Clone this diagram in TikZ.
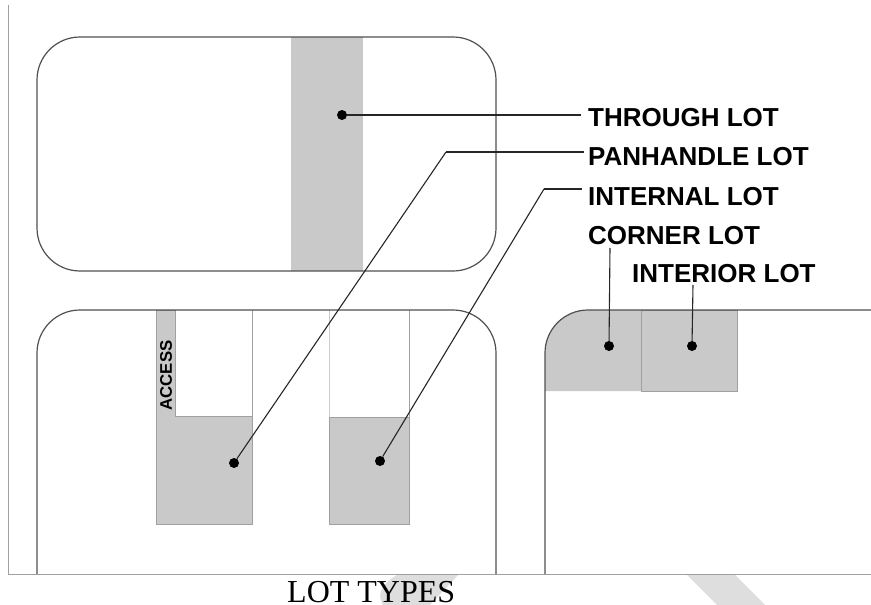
\documentclass[tikz,border=0pt]{standalone}
\usepackage{fontspec}
\setmainfont{Liberation Serif}
\newfontfamily\lblfont{Liberation Sans}
\definecolor{lotgray}{HTML}{C9C9C9}
\definecolor{edgegray}{HTML}{A0A0A0}
\definecolor{roadgray}{HTML}{505050}
\definecolor{markgray}{HTML}{DEDEDE}
\begin{document}
\begin{tikzpicture}
  [x=1pt,y=-1pt,
   lot/.style={fill=lotgray,draw=edgegray,line width=0.8pt},
   road/.style={draw=roadgray,line width=1.2pt,rounded corners=43pt},
   frameline/.style={draw=edgegray,line width=0.8pt},
   leader/.style={draw=black!85,line width=1.1pt},
   dot/.style={circle,fill=black,inner sep=0pt,minimum size=10pt},
   lbl/.style={anchor=base west,inner sep=0pt,font=\lblfont\bfseries\fontsize{26}{30}\selectfont}]
  \useasboundingbox (0,0) rectangle (871,605);

  % watermark below the frame
  \fill[markgray] (687,575) -- (735,575) -- (765,605) -- (717,605) -- cycle;
  \fill[markgray] (397,575) .. controls (385,582) and (375,592) .. (383,605) -- (430,605) -- (458,575) -- cycle;

  % frame
  \draw[frameline] (8,5) -- (8,574) -- (871,574);

  % lots
  \fill[lotgray] (291,37) rectangle (363,271);
  \draw[lot] (156,310) -- (175,310) -- (175,416.5) -- (252,416.5) -- (252,524) -- (156,524) -- cycle;
  \draw[frameline] (252,310) -- (252,416.5);
  \draw[lot] (329,417) rectangle (409,524.5);
  \draw[draw=black!20,line width=0.8pt] (329,310) -- (329,417);
  \draw[frameline] (409,310) -- (409,417);
  \fill[lotgray] (545,391) -- (545,353) .. controls (545,329) and (564,310) .. (588,310) -- (641,310) -- (641,391) -- cycle;
  \draw[lot] (641,310) rectangle (737,391);

  % blocks
  \draw[road] (37,37) rectangle (496,271);
  \draw[road] (37,574) -- (37,310) -- (496,310) -- (496,574);
  \draw[road] (545,574) -- (545,310) -- (871,310);

  \node[rotate=90,inner sep=0pt,font=\lblfont\bfseries\fontsize{16.8}{18}\selectfont] (access) at (166,375.5) {ACCESS};

  % labels
  \node[lbl] (through) at (588,126.5) {THROUGH LOT};
  \node[lbl] (panhandle) at (588,165) {PANHANDLE LOT};
  \node[lbl] (internal) at (588,205) {INTERNAL LOT};
  \node[lbl] (corner) at (588,244) {CORNER LOT};
  \node[lbl] (interior) at (632,282.5) {INTERIOR LOT};
  \node[anchor=base west,inner sep=0pt,font=\fontsize{32}{36}\selectfont] (title) at (287,602) {LOT TYPES};

  % dots
  \node[dot] (d1) at (342,115) {};
  \node[dot] (d2) at (234,463) {};
  \node[dot] (d3) at (380,461) {};
  \node[dot] (d4) at (609,346) {};
  \node[dot] (d5) at (692,346) {};

  % leader ends
  \coordinate (e1) at (581,115);
  \coordinate (k2) at (446,152);
  \coordinate (e2) at (584,152);
  \coordinate (k3) at (544,189);
  \coordinate (e3) at (582,189);
  \coordinate (e4) at (610,248);
  \coordinate (e5) at (693,285);

  \foreach \from/\to in {d1/e1, d2/k2, k2/e2, d3/k3, k3/e3, d4/e4, d5/e5}
    \draw[leader] (\from) -- (\to);
\end{tikzpicture}
\end{document}
